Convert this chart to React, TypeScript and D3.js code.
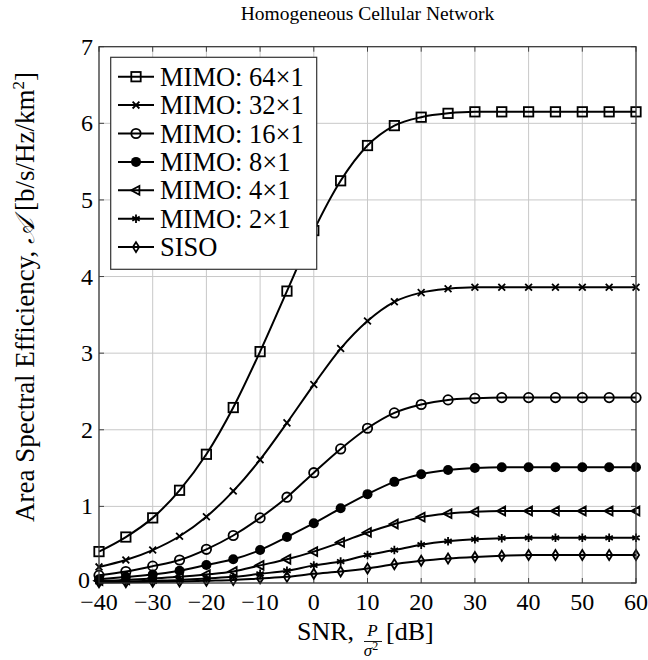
import React, { useEffect, useRef } from 'react';
import * as d3 from 'd3';

const snr = [-40, -35, -30, -25, -20, -15, -10, -5, 0, 5, 10, 15, 20, 25, 30, 35, 40, 45, 50, 55, 60];

const mimo64 = [0.41, 0.6, 0.85, 1.21, 1.68, 2.29, 3.02, 3.81, 4.6, 5.25, 5.71, 5.97, 6.08, 6.13, 6.15, 6.15, 6.15, 6.15, 6.15, 6.15, 6.15];
const mimo32 = [0.21, 0.3, 0.43, 0.61, 0.865, 1.2, 1.61, 2.09, 2.59, 3.06, 3.42, 3.67, 3.79, 3.84, 3.86, 3.86, 3.86, 3.86, 3.86, 3.86, 3.86];
const mimo16 = [0.1, 0.15, 0.22, 0.3, 0.44, 0.62, 0.85, 1.12, 1.44, 1.75, 2.02, 2.22, 2.33, 2.39, 2.41, 2.42, 2.42, 2.42, 2.42, 2.42, 2.42];
const mimo8 = [0.05, 0.08, 0.11, 0.16, 0.235, 0.31, 0.43, 0.6, 0.78, 0.975, 1.16, 1.32, 1.42, 1.475, 1.5, 1.51, 1.51, 1.51, 1.51, 1.51, 1.51];
const mimo4 = [0.03, 0.04, 0.06, 0.08, 0.11, 0.15, 0.23, 0.31, 0.41, 0.53, 0.66, 0.77, 0.86, 0.905, 0.93, 0.94, 0.94, 0.94, 0.94, 0.94, 0.94];
const mimo2 = [0.015, 0.02, 0.03, 0.04, 0.06, 0.08, 0.12, 0.16, 0.23, 0.28, 0.365, 0.43, 0.5, 0.545, 0.57, 0.585, 0.59, 0.59, 0.59, 0.59, 0.59];
const siso = [0.008, 0.01, 0.015, 0.02, 0.03, 0.04, 0.06, 0.08, 0.12, 0.15, 0.19, 0.245, 0.29, 0.32, 0.34, 0.355, 0.365, 0.365, 0.365, 0.365, 0.365];

const seriesNames = ['MIMO: 64×1', 'MIMO: 32×1', 'MIMO: 16×1', 'MIMO: 8×1', 'MIMO: 4×1', 'MIMO: 2×1', 'SISO'];
const seriesValues = [mimo64, mimo32, mimo16, mimo8, mimo4, mimo2, siso];
const markerKinds = ['square', 'cross', 'circle', 'dot', 'triangle', 'star', 'diamond'];

const xTicks = [-40, -30, -20, -10, 0, 10, 20, 30, 40, 50, 60];
const yTicks = [0, 1, 2, 3, 4, 5, 6, 7];

const width = 648;
const height = 660;
const margin = { top: 46.7, right: 12, bottom: 77, left: 99 };
const serif = '"Liberation Serif", "Times New Roman", serif';

function drawMarker(g: any, kind: string, cx: number, cy: number) {
  const m = g.append('g').attr('transform', `translate(${cx},${cy})`);
  const sw = 1.8;
  if (kind === 'square') {
    m.append('rect').attr('x', -4.7).attr('y', -4.7).attr('width', 9.4).attr('height', 9.4)
      .attr('fill', 'none').attr('stroke', '#000').attr('stroke-width', sw);
  } else if (kind === 'cross') {
    m.append('path').attr('d', 'M-3.4,-3.4L3.4,3.4M-3.4,3.4L3.4,-3.4')
      .attr('stroke', '#000').attr('stroke-width', sw);
  } else if (kind === 'circle') {
    m.append('circle').attr('r', 4.7).attr('fill', 'none').attr('stroke', '#000').attr('stroke-width', sw);
  } else if (kind === 'dot') {
    m.append('circle').attr('r', 5).attr('fill', '#000');
  } else if (kind === 'triangle') {
    m.append('path').attr('d', 'M-4.8,0L3.4,-4.4L3.4,4.4Z')
      .attr('fill', 'none').attr('stroke', '#000').attr('stroke-width', sw);
  } else if (kind === 'star') {
    m.append('path').attr('d', 'M0,-4.2L0,4.2M-3.7,-2.1L3.7,2.1M-3.7,2.1L3.7,-2.1')
      .attr('stroke', '#000').attr('stroke-width', sw);
  } else if (kind === 'diamond') {
    m.append('path').attr('d', 'M0,-5L3.1,0L0,5L-3.1,0Z')
      .attr('fill', 'none').attr('stroke', '#000').attr('stroke-width', sw);
  }
}

export default function App() {
  const svgRef = useRef<SVGSVGElement>(null);

  useEffect(() => {
    const svg = d3.select(svgRef.current);
    svg.selectAll('*').remove();

    const x = d3.scaleLinear().domain([-40, 60]).range([margin.left, width - margin.right]);
    const y = d3.scaleLinear().domain([0, 7]).range([height - margin.bottom, margin.top]);

    const x0 = x.range()[0];
    const x1 = x.range()[1];
    const y0 = y.range()[0];
    const y1 = y.range()[1];

    // grid
    const grid = svg.append('g').attr('stroke', '#c8c8c8').attr('stroke-width', 1);
    xTicks.forEach((t) => grid.append('line').attr('x1', x(t)).attr('x2', x(t)).attr('y1', y0).attr('y2', y1));
    yTicks.forEach((t) => grid.append('line').attr('x1', x0).attr('x2', x1).attr('y1', y(t)).attr('y2', y(t)));

    // inner ticks on every side
    const ticks = svg.append('g').attr('stroke', '#444').attr('stroke-width', 1);
    xTicks.forEach((t) => {
      ticks.append('line').attr('x1', x(t)).attr('x2', x(t)).attr('y1', y0).attr('y2', y0 - 5);
      ticks.append('line').attr('x1', x(t)).attr('x2', x(t)).attr('y1', y1).attr('y2', y1 + 5);
    });
    yTicks.forEach((t) => {
      ticks.append('line').attr('x1', x0).attr('x2', x0 + 5).attr('y1', y(t)).attr('y2', y(t));
      ticks.append('line').attr('x1', x1).attr('x2', x1 - 5).attr('y1', y(t)).attr('y2', y(t));
    });

    // series
    const line = d3.line<number>()
      .x((_, i) => x(snr[i]))
      .y((d) => y(d))
      .curve(d3.curveMonotoneX);

    seriesValues.forEach((vals, si) => {
      svg.append('path').datum(vals).attr('d', line).attr('fill', 'none')
        .attr('stroke', '#000').attr('stroke-width', 2);
      const mg = svg.append('g');
      vals.forEach((v, i) => drawMarker(mg, markerKinds[si], x(snr[i]), y(v)));
    });

    // frame
    svg.append('rect').attr('x', x0).attr('y', y1).attr('width', x1 - x0).attr('height', y0 - y1)
      .attr('fill', 'none').attr('stroke', '#333').attr('stroke-width', 1.2);

    // tick labels
    const tl = svg.append('g').attr('font-family', serif).attr('font-size', 24).attr('fill', '#000');
    xTicks.forEach((t) => {
      tl.append('text').attr('x', x(t)).attr('y', y0 + 27).attr('text-anchor', 'middle')
        .text(t < 0 ? `−${-t}` : `${t}`);
    });
    yTicks.forEach((t) => {
      tl.append('text').attr('x', x0 - (t === 0 ? 9 : 6)).attr('y', y(t) + (t === 0 ? 5 : 8))
        .attr('text-anchor', 'end').text(`${t}`);
    });

    // legend
    const lg = svg.append('g');
    lg.append('rect').attr('x', 110.7).attr('y', 57.3).attr('width', 206).attr('height', 212)
      .attr('fill', '#fff').attr('stroke', '#333').attr('stroke-width', 1.2);
    seriesNames.forEach((name, i) => {
      const ly = 76.7 + i * 28.4;
      lg.append('line').attr('x1', 118).attr('x2', 154).attr('y1', ly).attr('y2', ly)
        .attr('stroke', '#000').attr('stroke-width', 2);
      drawMarker(lg, markerKinds[i], 136, ly);
      lg.append('text').attr('x', 160).attr('y', ly + 9).attr('font-family', serif)
        .attr('font-size', 26.5).attr('fill', '#000').text(name);
    });

    // title
    svg.append('text').attr('x', (x0 + x1) / 2).attr('y', 20).attr('text-anchor', 'middle')
      .attr('font-family', serif).attr('font-size', 19.5).attr('fill', '#000')
      .text('Homogeneous Cellular Network');

    // x label
    const xl = svg.append('g').attr('font-family', serif).attr('fill', '#000');
    xl.append('text').attr('x', 297).attr('y', 640).attr('font-size', 26).text('SNR,');
    xl.append('text').attr('x', 372.5).attr('y', 636).attr('text-anchor', 'middle')
      .attr('font-size', 17).attr('font-style', 'italic').text('P');
    xl.append('line').attr('x1', 364).attr('x2', 382).attr('y1', 641.5).attr('y2', 641.5)
      .attr('stroke', '#000').attr('stroke-width', 0.9);
    xl.append('text').attr('x', 371).attr('y', 656).attr('text-anchor', 'middle')
      .attr('font-size', 17).attr('font-style', 'italic')
      .html('σ<tspan font-style="normal" font-size="12" dy="-6">2</tspan>');
    xl.append('text').attr('x', 386).attr('y', 640).attr('font-size', 26).text('[dB]');

    // y label
    svg.append('text').attr('transform', `translate(34,${297}) rotate(-90)`).attr('text-anchor', 'middle')
      .attr('font-family', serif).attr('font-size', 27).attr('fill', '#000')
      .html('Area Spectral Efficiency, <tspan font-style="italic" font-family="DejaVu Serif">𝒜</tspan><tspan dx="7">[b/s/Hz/km</tspan><tspan font-size="17" dy="-10">2</tspan><tspan dy="10">]</tspan>');
  }, []);

  return <svg ref={svgRef} width={width} height={height} style={{ position: 'absolute', left: 0, top: 0 }} />;
}
